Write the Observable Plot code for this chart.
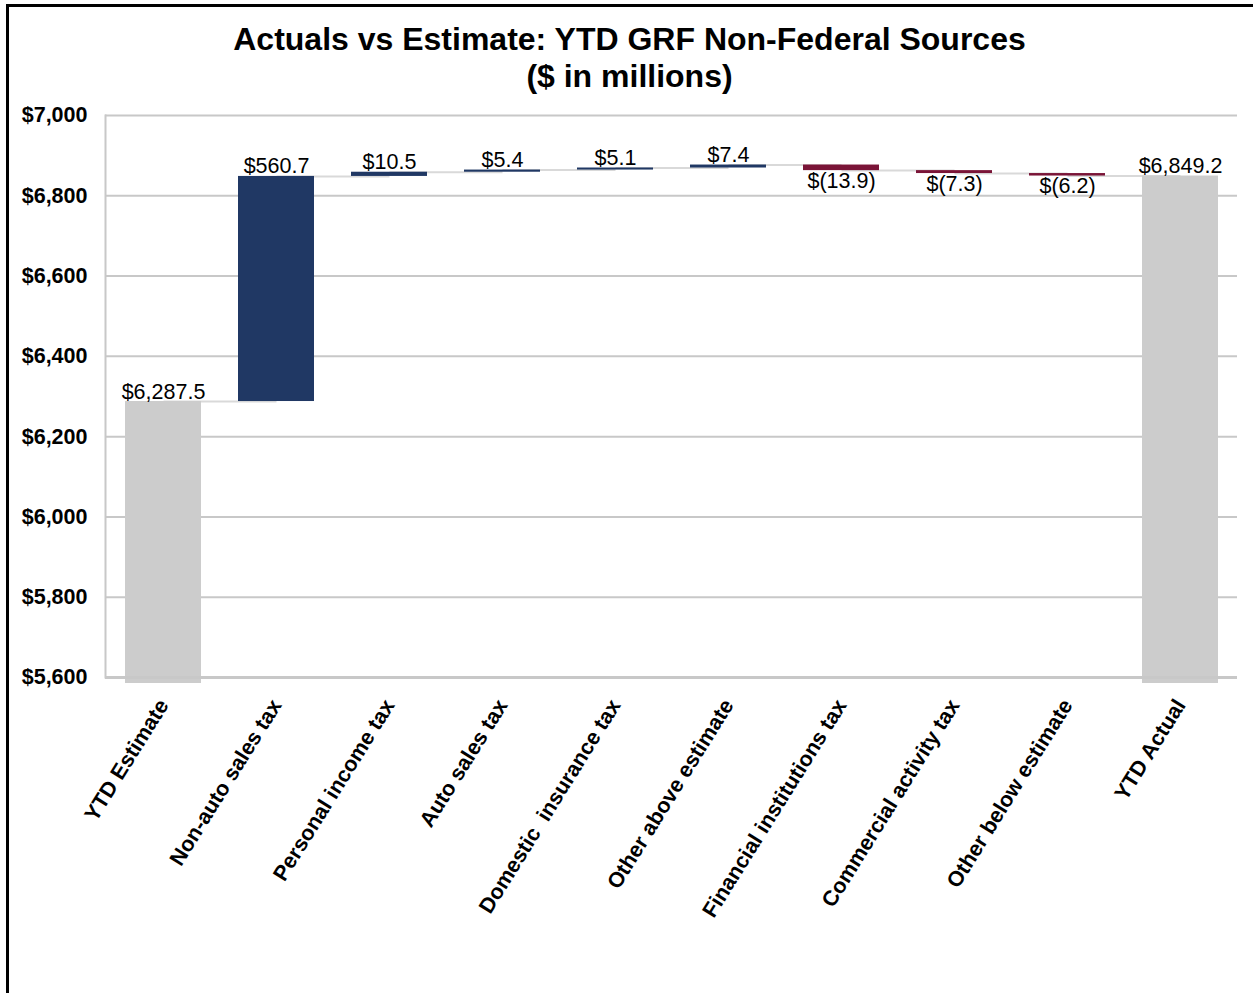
<!DOCTYPE html>
<html>
<head>
<meta charset="utf-8">
<script src="https://cdn.jsdelivr.net/npm/d3@7"></script>
<script src="https://cdn.jsdelivr.net/npm/@observablehq/plot@0.6"></script>
<style>
  html, body { margin: 0; padding: 0; background: #fff; overflow: hidden; }
  #page { position: relative; width: 1253px; height: 993px; font-family: Arial, "Liberation Sans", sans-serif; }
  #border { position: absolute; left: 6px; top: 4px; width: 1260px; height: 1100px; border-top: 3px solid #000; border-left: 3px solid #000; box-sizing: border-box; }
  #title { position: absolute; left: 0; top: 21px; width: 1259px; text-align: center; font-weight: bold; font-size: 32px; line-height: 37px; color: #000; }
  #chart { position: absolute; left: 0; top: 95px; }
</style>
</head>
<body>
<div id="page">
  <div id="border"></div>
  <div id="title">Actuals vs Estimate: YTD GRF Non-Federal Sources<br>($ in millions)</div>
  <div id="chart"></div>
</div>
<script>
const categories = [
  "YTD Estimate",
  "Non-auto sales tax",
  "Personal income tax",
  "Auto sales tax",
  "Domestic  insurance tax",
  "Other above estimate",
  "Financial institutions tax",
  "Commercial activity tax",
  "Other below estimate",
  "YTD Actual"
];
const values = [6287.5, 560.7, 10.5, 5.4, 5.1, 7.4, -13.9, -7.3, -6.2, 6849.2];
const yTicks = [5600, 5800, 6000, 6200, 6400, 6600, 6800, 7000];

const kinds = ["total", "up", "down"];
const kindColors = ["#cccccc", "#203864", "#7a1437"];

const fmt = d3.format(",.1f");
let run = 0;
const rows = categories.map((cat, i) => {
  const v = values[i];
  const kind = (i === 0 || i === categories.length - 1) ? "total" : (v >= 0 ? "up" : "down");
  let y1, y2;
  if (kind === "total") { y1 = yTicks[0]; y2 = v; run = v; }
  else { y1 = run; y2 = run + v; run = y2; }
  const label = v < 0 ? "$(" + fmt(-v) + ")" : "$" + fmt(v);
  return {cat, v, kind, y1, y2, end: run, label,
          top: Math.max(y1, y2), bottom: Math.min(y1, y2)};
});
const links = rows.slice(0, -1).map((r, i) => ({a: r.cat, b: rows[i + 1].cat, y: r.end}));

const chart = Plot.plot({
  width: 1253,
  height: 898,
  marginLeft: 105,
  marginRight: 16,
  marginTop: 20,
  marginBottom: 316,
  style: {fontFamily: "Arial, 'Liberation Sans', sans-serif", color: "#000", background: "transparent"},
  x: {domain: categories, paddingInner: 0.33, paddingOuter: 0.165, label: null},
  y: {domain: [5600, 7000], label: null},
  color: {domain: kinds, range: kindColors},
  marks: [
    Plot.gridY(yTicks, {stroke: "#c8c8c8", strokeOpacity: 1, strokeWidth: 2}),
    Plot.link(links, {x1: "a", x2: "b", y1: "y", y2: "y", stroke: "#d9d9d9", strokeWidth: 2}),
    Plot.barY(rows.filter(d => d.kind === "total"), {x: "cat", y1: "y1", y2: "y2", fill: "kind", insetBottom: -6}),
    Plot.barY(rows.filter(d => d.kind !== "total"), {x: "cat", y1: "y1", y2: "y2", fill: "kind"}),
    Plot.ruleY([5600], {stroke: "#c8c8c8", strokeWidth: 3}),
    Plot.frame({anchor: "left", stroke: "#c8c8c8", strokeWidth: 2}),
    Plot.text(rows.filter(d => d.kind !== "down"), {x: "cat", y: "top", text: "label", lineAnchor: "bottom", dy: -3, fontSize: 21.5}),
    Plot.text(rows.filter(d => d.kind === "down"), {x: "cat", y: "bottom", text: "label", lineAnchor: "top", dy: 2, fontSize: 21.5}),
    Plot.axisY({ticks: yTicks, tickFormat: d => "$" + d3.format(",")(d), tickSize: 0, tickPadding: 18, fontSize: 21.5, fontWeight: "bold"}),
    Plot.axisX({tickRotate: -58, tickSize: 0, tickPadding: 24, fontSize: 21.5, fontWeight: "bold", label: null})
  ]
});
chart.querySelectorAll("text").forEach(t => t.setAttribute("xml:space", "preserve"));
chart.style.whiteSpace = "pre";
document.getElementById("chart").appendChild(chart);
</script>
</body>
</html>
